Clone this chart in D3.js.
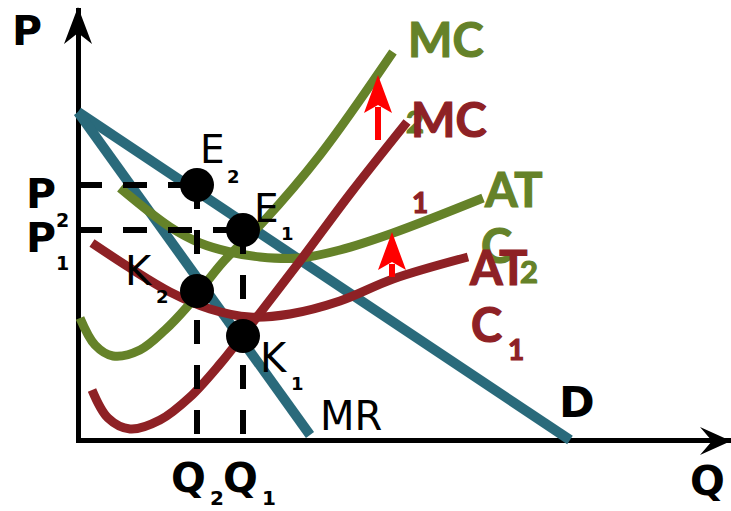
<!DOCTYPE html>
<html><head><meta charset="utf-8">
<script src="https://cdn.jsdelivr.net/npm/d3@7"></script>
<style>
html,body{margin:0;padding:0;background:#fff;}
svg{display:block;}
</style></head>
<body>
<svg id="chart" width="731" height="511"></svg>
<script>
// ---- data (Q, P) in arbitrary units ----
const demand = [[0,65.6],[98.4,0]];
const mr     = [[0,65.6],[46.4,1]];
const mc1 = [[2.8,10],[6,4.4],[10.4,2.2],[16.4,4],[22.4,8.6],[28.4,15.2],[33,21],[44.4,35.8],[54.4,49.2],[65.8,63.6]];
const mc2 = [[0.4,24.4],[3.4,19],[7,16.8],[12.4,18],[17.4,22],[21.8,26.6],[29,35.6],[37,43.6],[48.4,57],[63,77.6]];
const atc1 = [[2.8,39.4],[10.4,34.4],[18.4,29.6],[26.4,26.2],[34.4,24.6],[42.4,25.2],[52.4,27.8],[63,32.2],[78,36.6]];
const atc2 = [[8.4,50.4],[18.4,42.6],[24.4,39.4],[30.4,37.6],[36.4,36.6],[44.4,36.4],[52.4,38],[63,41.4],[81,48.4]];
const quantities = {Q2: 23.8, Q1: 33};
const prices = {P2: 51, P1: 42};
const points = [
  {name:"E2", q:23.8, p:51},
  {name:"E1", q:33, p:42},
  {name:"K2", q:23.8, p:29.8},
  {name:"K1", q:33, p:20.8}
];
const shiftArrows = [
  {q:60, p0:60, p1:73},
  {q:62.8, p0:32.6, p1:41.6}
];

const GREEN = "#658229", RED = "#8E2125", BLUE = "#2A6A7B";

const svg = d3.select("#chart");
const x = d3.scaleLinear().domain([0,130]).range([78,728]);
const y = d3.scaleLinear().domain([0,86]).range([440,10]);

const line = d3.line().x(d=>x(d[0])).y(d=>y(d[1]));
const curve = d3.line().x(d=>x(d[0])).y(d=>y(d[1])).curve(d3.curveCatmullRom.alpha(0.5));

// axes
svg.append("g").attr("transform","translate(0,440)")
  .call(d3.axisBottom(x).tickValues([]).tickSizeOuter(0));
svg.append("g").attr("transform","translate(78,0)")
  .call(d3.axisLeft(y).tickValues([]).tickSizeOuter(0));
svg.selectAll(".domain").attr("stroke","#000").attr("stroke-width",5).attr("stroke-linecap","square");
// arrowheads
svg.append("path").attr("d","M78,7 L92,44 L78,33 L64,44 Z").attr("fill","#000");
svg.append("path").attr("d","M731,441 L700,455 L712,441 L700,427 Z").attr("fill","#000");

// curves
svg.append("path").attr("d",line(demand)).attr("fill","none").attr("stroke",BLUE).attr("stroke-width",10);
svg.append("path").attr("d",line(mr)).attr("fill","none").attr("stroke",BLUE).attr("stroke-width",10);
svg.append("path").attr("d",curve(atc2)).attr("fill","none").attr("stroke",GREEN).attr("stroke-width",9);
svg.append("path").attr("d",curve(atc1)).attr("fill","none").attr("stroke",RED).attr("stroke-width",9);
svg.append("path").attr("d",curve(mc2)).attr("fill","none").attr("stroke",GREEN).attr("stroke-width",9);
svg.append("path").attr("d",curve(mc1)).attr("fill","none").attr("stroke",RED).attr("stroke-width",9);

// dashed guides
const dash = svg.append("g").attr("stroke","#000").attr("stroke-width",6).attr("stroke-dasharray","24,21").attr("fill","none");
dash.append("path").attr("d",line([[0,prices.P2],[quantities.Q2,prices.P2]]));
dash.append("path").attr("d",line([[0,prices.P1],[quantities.Q1,prices.P1]]));
dash.append("path").attr("d",line([[quantities.Q2,prices.P2],[quantities.Q2,0]]));
dash.append("path").attr("d",line([[quantities.Q1,prices.P1],[quantities.Q1,0]]));

// shift arrows
shiftArrows.forEach(a=>{
  const cx = x(a.q), yb = y(a.p0), yt = y(a.p1);
  const hb = yt + 38;
  svg.append("line").attr("x1",cx).attr("x2",cx).attr("y1",yb).attr("y2",hb-6)
    .attr("stroke","#FF0000").attr("stroke-width",6);
  svg.append("path").attr("d",`M${cx},${yt} L${cx+14},${hb} L${cx},${hb-8} L${cx-14},${hb} Z`).attr("fill","#FF0000");
});

// dots
svg.selectAll("circle.pt").data(points).enter().append("circle")
  .attr("class","pt").attr("cx",d=>x(d.q)).attr("cy",d=>y(d.p)).attr("r",17).attr("fill","#000");

// labels
const labels = [
  {t:"P", x:12, y:45, s:41, w:"bold", f:"DejaVu Sans", c:"#000"},
  {t:"P", x:26, y:208, s:41, w:"bold", f:"DejaVu Sans", c:"#000"},
  {t:"2", x:56, y:227, s:19, w:"bold", f:"DejaVu Sans", c:"#000"},
  {t:"P", x:26, y:252, s:41, w:"bold", f:"DejaVu Sans", c:"#000"},
  {t:"1", x:56, y:270, s:19, w:"bold", f:"DejaVu Sans", c:"#000"},
  {t:"Q", x:171, y:492, s:41, w:"bold", f:"DejaVu Sans", c:"#000"},
  {t:"2", x:210, y:505, s:20, w:"bold", f:"DejaVu Sans", c:"#000"},
  {t:"Q", x:223, y:492, s:41, w:"bold", f:"DejaVu Sans", c:"#000"},
  {t:"1", x:262, y:505, s:20, w:"bold", f:"DejaVu Sans", c:"#000"},
  {t:"Q", x:690, y:495, s:41, w:"bold", f:"DejaVu Sans", c:"#000"},
  {t:"D", x:559, y:417, s:43, w:"bold", f:"DejaVu Sans", c:"#000"},
  {t:"E", x:200, y:163, s:39, w:"normal", f:"DejaVu Sans", c:"#000"},
  {t:"2", x:227, y:183, s:18, w:"bold", f:"DejaVu Sans", c:"#000"},
  {t:"E", x:254, y:222, s:39, w:"normal", f:"DejaVu Sans", c:"#000"},
  {t:"1", x:281, y:240, s:18, w:"bold", f:"DejaVu Sans", c:"#000"},
  {t:"K", x:125, y:285, s:40, w:"normal", f:"DejaVu Sans", c:"#000"},
  {t:"2", x:156, y:303, s:18, w:"bold", f:"DejaVu Sans", c:"#000"},
  {t:"K", x:260, y:372, s:40, w:"normal", f:"DejaVu Sans", c:"#000"},
  {t:"1", x:291, y:390, s:18, w:"bold", f:"DejaVu Sans", c:"#000"},
  {t:"MR", x:320, y:430, s:40, w:"normal", f:"DejaVu Sans", c:"#000"},
  {t:"MC", x:408, y:57, s:47, w:"bold", f:"Lato", c:GREEN},
  {t:"2", x:406, y:133, s:31, w:"bold", f:"Lato", c:GREEN},
  {t:"MC", x:411, y:137, s:47, w:"bold", f:"Lato", c:RED},
  {t:"1", x:412, y:213, s:28, w:"bold", f:"Lato", c:RED},
  {t:"AT", x:485, y:207, s:47, w:"bold", f:"Lato", c:GREEN},
  {t:"C", x:481, y:263, s:47, w:"bold", f:"Lato", c:GREEN},
  {t:"2", x:520, y:283, s:31, w:"bold", f:"Lato", c:GREEN},
  {t:"AT", x:470, y:285, s:47, w:"bold", f:"Lato", c:RED},
  {t:"C", x:471, y:342, s:47, w:"bold", f:"Lato", c:RED},
  {t:"1", x:508, y:360, s:28, w:"bold", f:"Lato", c:RED}
];
svg.selectAll("text.lbl").data(labels).enter().append("text")
  .attr("class","lbl").attr("x",d=>d.x).attr("y",d=>d.y)
  .attr("font-family",d=>d.f).attr("font-size",d=>d.s).attr("font-weight",d=>d.w)
  .attr("fill",d=>d.c)
  .attr("stroke",d=>d.f==="Lato"?d.c:"none").attr("stroke-width",d=>d.f==="Lato"?1.2:0)
  .text(d=>d.t);
</script>
</body></html>
